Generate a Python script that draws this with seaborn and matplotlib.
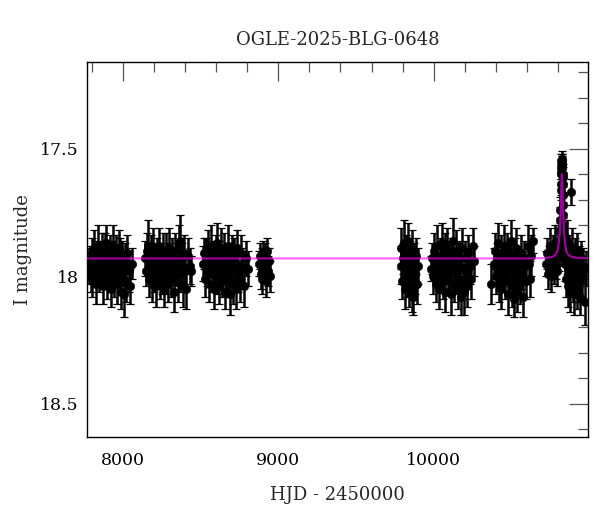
"""OGLE-2025-BLG-0648 light curve: I-band photometry with a point-lens model."""

import matplotlib
matplotlib.use("Agg")
import matplotlib.pyplot as plt
import matplotlib.ticker as mticker
import pandas as pd
import seaborn as sns

# (HJD - 2450000, I mag, error) per observing season
SEASON_1 = [
    (7783, 17.96, 0.07), (7786, 17.94, 0.06), (7791, 17.99, 0.07), (7797, 17.91, 0.06), (7802, 18.01, 0.07),
    (7808, 17.95, 0.06), (7813, 17.89, 0.07), (7819, 17.97, 0.06), (7825, 18.03, 0.08), (7830, 17.92, 0.06),
    (7836, 17.96, 0.07), (7842, 17.88, 0.08), (7847, 18.00, 0.06), (7853, 17.93, 0.07), (7859, 17.98, 0.06),
    (7864, 17.90, 0.07), (7870, 18.04, 0.07), (7876, 17.95, 0.06), (7881, 17.91, 0.08), (7887, 17.99, 0.06),
    (7893, 17.87, 0.07), (7898, 18.02, 0.07), (7904, 17.94, 0.06), (7910, 17.97, 0.08), (7915, 17.90, 0.06),
    (7921, 18.05, 0.07), (7927, 17.93, 0.07), (7932, 17.98, 0.06), (7938, 17.88, 0.08), (7944, 18.01, 0.07),
    (7949, 17.95, 0.06), (7955, 17.91, 0.07), (7961, 18.03, 0.08), (7966, 17.96, 0.06), (7972, 17.89, 0.07),
    (7978, 18.00, 0.06), (7983, 17.93, 0.08), (7989, 18.06, 0.07), (7995, 17.92, 0.06), (8001, 17.97, 0.07),
    (8007, 18.07, 0.09), (8013, 17.94, 0.07), (8020, 18.02, 0.08), (8028, 17.91, 0.07), (8036, 17.98, 0.08),
    (8045, 18.04, 0.07), (8056, 17.95, 0.06),
]
SEASON_2 = [
    (8142, 17.93, 0.07), (8148, 17.98, 0.06), (8154, 17.90, 0.07), (8160, 17.88, 0.10), (8166, 18.01, 0.07),
    (8172, 17.95, 0.06), (8178, 17.91, 0.07), (8184, 18.03, 0.07), (8190, 17.96, 0.06), (8196, 17.89, 0.08),
    (8202, 17.99, 0.07), (8208, 17.93, 0.06), (8214, 18.04, 0.08), (8220, 17.92, 0.07), (8226, 17.97, 0.06),
    (8232, 17.88, 0.07), (8238, 18.02, 0.07), (8244, 17.94, 0.06), (8250, 17.99, 0.08), (8256, 17.90, 0.07),
    (8262, 18.05, 0.07), (8268, 17.95, 0.06), (8274, 17.91, 0.08), (8280, 18.00, 0.07), (8286, 17.93, 0.06),
    (8292, 18.03, 0.07), (8298, 17.89, 0.08), (8304, 17.97, 0.06), (8310, 18.01, 0.07), (8316, 17.92, 0.07),
    (8322, 17.96, 0.06), (8328, 18.06, 0.08), (8334, 17.90, 0.07), (8340, 17.98, 0.06), (8346, 17.94, 0.07),
    (8352, 18.02, 0.08), (8358, 17.87, 0.07), (8364, 17.86, 0.10), (8370, 17.99, 0.07), (8377, 17.93, 0.06),
    (8384, 18.04, 0.08), (8391, 17.91, 0.07), (8399, 17.97, 0.07), (8408, 18.05, 0.08), (8418, 17.92, 0.07),
    (8432, 17.96, 0.07), (8440, 17.98, 0.06),
]
SEASON_3 = [
    (8518, 17.95, 0.07), (8524, 17.91, 0.06), (8530, 18.01, 0.07), (8536, 17.93, 0.08), (8542, 17.98, 0.06),
    (8548, 17.89, 0.07), (8554, 18.03, 0.07), (8560, 17.94, 0.06), (8566, 17.88, 0.08), (8572, 17.99, 0.07),
    (8578, 17.92, 0.06), (8584, 18.05, 0.08), (8590, 17.96, 0.07), (8596, 17.90, 0.06), (8602, 18.00, 0.07),
    (8608, 17.87, 0.08), (8614, 17.97, 0.06), (8620, 18.04, 0.07), (8626, 17.93, 0.07), (8632, 17.89, 0.08),
    (8638, 18.02, 0.06), (8644, 17.95, 0.07), (8650, 17.91, 0.08), (8656, 18.06, 0.07), (8662, 17.94, 0.06),
    (8668, 17.98, 0.07), (8674, 17.88, 0.08), (8680, 18.01, 0.07), (8686, 17.93, 0.06), (8692, 18.07, 0.08),
    (8698, 17.96, 0.07), (8704, 17.90, 0.06), (8710, 18.03, 0.08), (8716, 17.92, 0.07), (8722, 17.97, 0.06),
    (8729, 18.05, 0.08), (8736, 17.89, 0.07), (8743, 17.99, 0.07), (8751, 18.02, 0.08), (8759, 17.91, 0.07),
    (8768, 17.96, 0.07), (8778, 18.04, 0.08), (8790, 17.93, 0.07), (8802, 17.97, 0.07),
]
SEASON_4 = [
    (8878, 17.95, 0.05), (8883, 17.92, 0.05), (8888, 17.99, 0.06), (8893, 17.94, 0.05), (8898, 18.01, 0.06),
    (8903, 17.91, 0.05), (8908, 17.97, 0.05), (8913, 17.93, 0.06), (8918, 18.02, 0.06), (8923, 17.95, 0.05),
    (8928, 17.90, 0.05), (8933, 17.98, 0.06), (8939, 17.94, 0.05), (8945, 18.00, 0.06),
]
SEASON_5 = [
    (9788, 17.96, 0.07), (9793, 17.89, 0.08), (9798, 18.02, 0.07), (9803, 17.93, 0.06), (9808, 17.87, 0.09),
    (9813, 18.05, 0.08), (9818, 17.95, 0.07), (9823, 17.91, 0.07), (9828, 18.00, 0.08), (9833, 17.86, 0.07),
    (9838, 17.97, 0.06), (9843, 18.04, 0.08), (9848, 17.93, 0.07), (9853, 17.98, 0.07), (9858, 17.90, 0.08),
    (9863, 18.06, 0.08), (9868, 18.08, 0.07), (9873, 17.94, 0.07), (9878, 17.99, 0.08), (9884, 17.92, 0.07),
    (9890, 18.03, 0.08), (9897, 17.96, 0.07),
]
SEASON_6 = [
    (9982, 17.97, 0.05), (9989, 17.93, 0.06), (9996, 18.00, 0.07), (10003, 17.90, 0.07), (10010, 17.95, 0.06),
    (10016, 18.03, 0.07), (10022, 17.88, 0.08), (10028, 17.97, 0.06), (10034, 18.05, 0.08), (10040, 17.92, 0.07),
    (10046, 17.99, 0.06), (10052, 17.87, 0.08), (10058, 18.02, 0.07), (10064, 17.94, 0.06), (10070, 17.90, 0.07),
    (10076, 18.06, 0.08), (10082, 17.96, 0.07), (10088, 17.89, 0.08), (10094, 18.01, 0.06), (10100, 17.93, 0.07),
    (10106, 17.98, 0.07), (10112, 18.07, 0.08), (10118, 17.91, 0.06), (10124, 17.86, 0.09), (10130, 18.03, 0.07),
    (10136, 17.95, 0.06), (10142, 17.90, 0.08), (10148, 18.00, 0.07), (10154, 17.94, 0.07), (10160, 18.05, 0.08),
    (10166, 17.92, 0.06), (10172, 17.97, 0.07), (10178, 18.08, 0.07), (10184, 17.89, 0.08), (10190, 18.02, 0.07),
    (10196, 18.06, 0.09), (10203, 17.93, 0.07), (10210, 17.98, 0.06), (10217, 18.04, 0.08), (10224, 17.91, 0.07),
    (10232, 17.96, 0.07), (10241, 18.01, 0.08), (10251, 17.88, 0.07), (10260, 17.94, 0.06),
]
SEASON_7 = [
    (10368, 18.03, 0.08), (10386, 17.95, 0.06), (10393, 17.90, 0.07), (10400, 18.00, 0.07), (10407, 17.93, 0.06),
    (10413, 17.87, 0.08), (10419, 18.03, 0.07), (10425, 17.96, 0.06), (10431, 17.91, 0.07), (10437, 18.05, 0.08),
    (10443, 17.94, 0.06), (10449, 17.99, 0.07), (10455, 17.88, 0.08), (10461, 18.02, 0.07), (10467, 17.95, 0.06),
    (10473, 17.90, 0.07), (10479, 18.07, 0.08), (10485, 17.93, 0.07), (10491, 17.98, 0.06), (10497, 17.86, 0.08),
    (10503, 18.04, 0.08), (10509, 17.96, 0.06), (10515, 18.09, 0.07), (10521, 17.92, 0.07), (10527, 18.00, 0.07),
    (10533, 17.89, 0.08), (10539, 18.06, 0.08), (10545, 17.94, 0.06), (10551, 17.97, 0.07), (10557, 18.03, 0.08),
    (10563, 17.91, 0.07), (10569, 17.99, 0.06), (10576, 18.08, 0.08), (10583, 17.93, 0.07), (10590, 17.96, 0.06),
    (10597, 18.02, 0.07), (10605, 17.88, 0.08), (10613, 17.95, 0.07), (10621, 18.01, 0.07), (10630, 17.92, 0.08),
    (10638, 17.86, 0.05),
]
SEASON_8 = [
    (10725, 17.95, 0.05), (10731, 17.91, 0.06), (10737, 17.99, 0.06), (10743, 17.93, 0.05), (10749, 17.88, 0.07),
    (10755, 18.00, 0.06), (10761, 17.94, 0.05), (10767, 17.90, 0.06), (10773, 17.97, 0.06), (10779, 17.87, 0.07),
    (10785, 17.95, 0.06), (10790, 17.91, 0.05), (10795, 17.98, 0.06), (10800, 17.89, 0.06), (10805, 17.93, 0.05),
    (10809, 17.86, 0.06),
    # the event
    (10812, 17.82, 0.05), (10814, 17.78, 0.05), (10815, 17.74, 0.05), (10817, 17.66, 0.04), (10818, 17.64, 0.04),
    (10819, 17.60, 0.04), (10820, 17.59, 0.03), (10821, 17.57, 0.03), (10823, 17.55, 0.03), (10824, 17.56, 0.03),
    (10825, 17.54, 0.03), (10826, 17.55, 0.03), (10827, 17.55, 0.03), (10828, 17.57, 0.03), (10829, 17.57, 0.03),
    (10830, 17.60, 0.04), (10831, 17.61, 0.04), (10832, 17.64, 0.04), (10833, 17.68, 0.04), (10834, 17.72, 0.05),
    (10835, 17.76, 0.05), (10836, 17.80, 0.05), (10837, 17.84, 0.05),
    (10840, 17.90, 0.06), (10844, 17.95, 0.07), (10848, 17.88, 0.07), (10852, 18.01, 0.07), (10856, 17.93, 0.06),
    (10860, 17.86, 0.08), (10864, 18.04, 0.08), (10868, 17.97, 0.07), (10872, 17.91, 0.07), (10876, 18.06, 0.08),
    (10880, 17.94, 0.07), (10884, 17.67, 0.05), (10888, 17.99, 0.07), (10892, 17.89, 0.08), (10896, 18.03, 0.07),
    (10900, 17.95, 0.07), (10905, 18.07, 0.08), (10910, 17.92, 0.07), (10915, 17.98, 0.07), (10920, 18.05, 0.08),
    (10926, 17.90, 0.07), (10932, 18.02, 0.08), (10938, 17.95, 0.07), (10944, 18.08, 0.07), (10950, 17.93, 0.07),
    (10957, 18.00, 0.08), (10964, 17.96, 0.07), (10972, 18.10, 0.09), (10980, 17.97, 0.07),
]
SEASONS = [SEASON_1, SEASON_2, SEASON_3, SEASON_4, SEASON_5, SEASON_6, SEASON_7, SEASON_8]

# model curve
MODEL_T = [7700, 10626, 10726, 10766, 10786, 10798, 10806, 10812, 10816, 10818, 10820, 10822, 10824,
           10826, 10828, 10830, 10832, 10834, 10836, 10840, 10846, 10854, 10866, 10886, 10926, 11030]
MODEL_MAG = [17.930, 17.930, 17.928, 17.924, 17.915, 17.900, 17.870, 17.830, 17.780, 17.750, 17.710,
             17.660, 17.620, 17.600, 17.620, 17.660, 17.710, 17.750, 17.780, 17.830, 17.870, 17.900,
             17.915, 17.924, 17.928, 17.930]

TITLE = "OGLE-2025-BLG-0648"
XLIM = (7768, 10994)
YLIM = (18.63, 17.16)


def main() -> None:
    sns.set_theme(style="white")
    plt.rcParams["font.family"] = ["DejaVu Serif"]

    phot = pd.DataFrame([row for s in SEASONS for row in s], columns=["hjd", "mag", "err"])
    model = pd.DataFrame({"hjd": MODEL_T, "mag": MODEL_MAG})

    fig = plt.figure(figsize=(6, 5.12), dpi=100)
    ax = fig.add_axes([87 / 600, 1 - 437 / 512, 501 / 600, 375 / 512])

    ax.errorbar(phot["hjd"], phot["mag"], yerr=phot["err"], fmt="none", ecolor="black",
                elinewidth=1.8, capsize=3, capthick=0.9, zorder=2)
    sns.scatterplot(data=phot, x="hjd", y="mag", ax=ax, color="black", s=38,
                    edgecolor="black", linewidth=0.3, zorder=3)
    sns.lineplot(data=model, x="hjd", y="mag", ax=ax, sort=False, estimator=None,
                 color="magenta", alpha=0.6, linewidth=1.6, zorder=4)

    ax.set_xlim(*XLIM)
    ax.set_ylim(*YLIM)
    ax.xaxis.set_major_locator(mticker.MultipleLocator(1000))
    ax.xaxis.set_minor_locator(mticker.MultipleLocator(200))
    ax.yaxis.set_major_locator(mticker.MultipleLocator(0.5))
    ax.yaxis.set_minor_locator(mticker.MultipleLocator(0.1))
    ax.yaxis.set_major_formatter(mticker.FuncFormatter(lambda v, _: f"{v:g}"))

    ax.tick_params(which="both", direction="in", top=True, right=True, color="#555555",
                   labelsize=12.5, labelcolor="black")
    ax.tick_params(which="major", length=13.5, width=0.9)
    ax.tick_params(axis="x", which="major", pad=11)
    ax.tick_params(axis="y", which="major", pad=6)
    ax.tick_params(which="minor", length=7, width=0.9)
    for sp in ax.spines.values():
        sp.set_color("black")
        sp.set_linewidth(1.0)

    ax.set_xlabel("HJD - 2450000", fontsize=13, labelpad=12)
    ax.set_ylabel("I magnitude", fontsize=13, labelpad=6)
    ax.set_title(TITLE, fontsize=13, pad=12)

    fig.savefig("out.png", dpi=100)
    plt.close(fig)


if __name__ == "__main__":
    main()
